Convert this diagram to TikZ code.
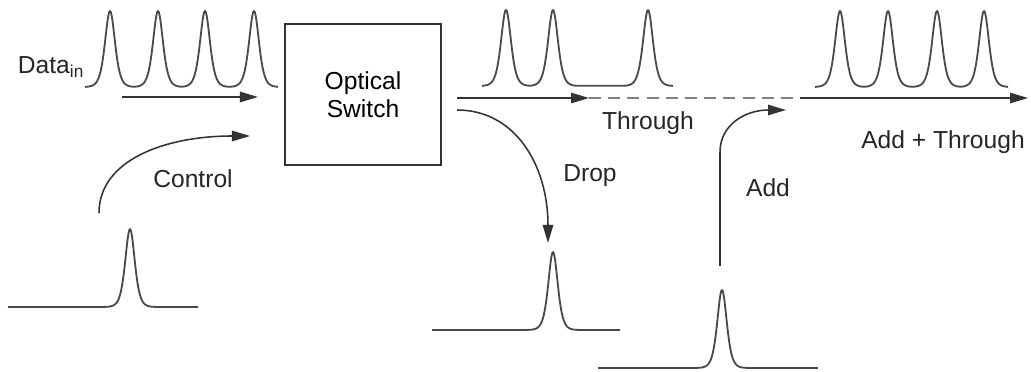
\documentclass[tikz,border=0pt]{standalone}
\usepackage{fontspec}
\setmainfont{Liberation Sans}
\usetikzlibrary{arrows.meta,positioning}
\definecolor{linegray}{HTML}{333333}
\definecolor{pulsegray}{HTML}{4A4A4A}
\newcommand{\lblfont}{\fontsize{17.5}{19.5}\selectfont}

\begin{document}
\begin{tikzpicture}[
  x=0.025cm, y=-0.025cm,
  box/.style={draw=linegray, line width=1.1pt, minimum width=3.9cm, minimum height=3.525cm, align=center, font=\lblfont, inner sep=0pt},
  arr/.style={-{Triangle[length=4.5mm, width=2.6mm]}, line width=1.1pt, linegray},
  sig/.style={line width=1.3pt, pulsegray, line join=round},
  gapline/.style={line width=1.1pt, gray, dash pattern=on 3mm off 1.8mm},
  lbl/.style={font=\lblfont, text=black!85, inner sep=1pt},
]
  \useasboundingbox (0,0) rectangle (1031,372);

  \node[box] (switch) at (363,94.5) {Optical\\Switch};

  \node[lbl] (datain)  at (51,67)  {Data\textsubscript{in}};
  \node[lbl] (control) at (193,179) {Control};
  \node[lbl] (through) at (648,123) {Through};
  \node[lbl] (drop)    at (590,176) {Drop};
  \node[lbl] (add)     at (768,188) {Add};
  \node[lbl] (addthru) at (943,142) {Add + Through};

  \draw[sig] (85,87) foreach \c in {110,158,205,254} { -- plot[domain=\c-23:\c+23, samples=61] (\x,{87-76/(cosh((\x-\c)/6.6))^2}) } -- (278,87);
  \draw[sig] (482,86) foreach \c in {506,553,648} { -- plot[domain=\c-23:\c+23, samples=61] (\x,{86-76/(cosh((\x-\c)/6.6))^2}) } -- (673,86);
  \draw[sig] (815,87) foreach \c in {840,888,937,984} { -- plot[domain=\c-23:\c+23, samples=61] (\x,{87-76/(cosh((\x-\c)/6.6))^2}) } -- (1008,87);
  \draw[sig] (8,307) -- plot[domain=102:158, samples=71] (\x,{307-78/(cosh((\x-130)/6.3))^2}) -- (198,307);
  \draw[sig] (432,330) -- plot[domain=525:581, samples=71] (\x,{330-78/(cosh((\x-553)/6.3))^2}) -- (620,330);
  \draw[sig] (598,368) -- plot[domain=694:750, samples=71] (\x,{368-78/(cosh((\x-722)/6.3))^2}) -- (818,368);

  \coordinate (inA)    at (122,97);
  \coordinate (inB)    at (258,97);
  \coordinate (ctlA)   at (99,213);
  \coordinate (ctlB)   at (250,136);
  \coordinate (thruA)  at (457,98);
  \coordinate (thruB)  at (589,98);
  \coordinate (thruC)  at (800,98);
  \coordinate (outB)   at (1028,98);
  \coordinate (dropA)  at (457,110);
  \coordinate (dropB)  at (548,243);
  \coordinate (addA)   at (720,266);
  \coordinate (addB)   at (786,110);

  \draw[arr] (inA) -- (inB);
  \draw[arr] (ctlA) .. controls (99,160) and (165,136) .. (ctlB);
  \draw[arr] (thruA) -- (thruB);
  \draw[gapline] (thruB) -- (thruC);
  \draw[arr] (thruC) -- (outB);
  \draw[arr] (dropA) .. controls (515,110) and (548,165) .. (dropB);
  \draw[arr] (addA) -- (720,152) .. controls (720,125) and (745,110) .. (addB);
\end{tikzpicture}
\end{document}
